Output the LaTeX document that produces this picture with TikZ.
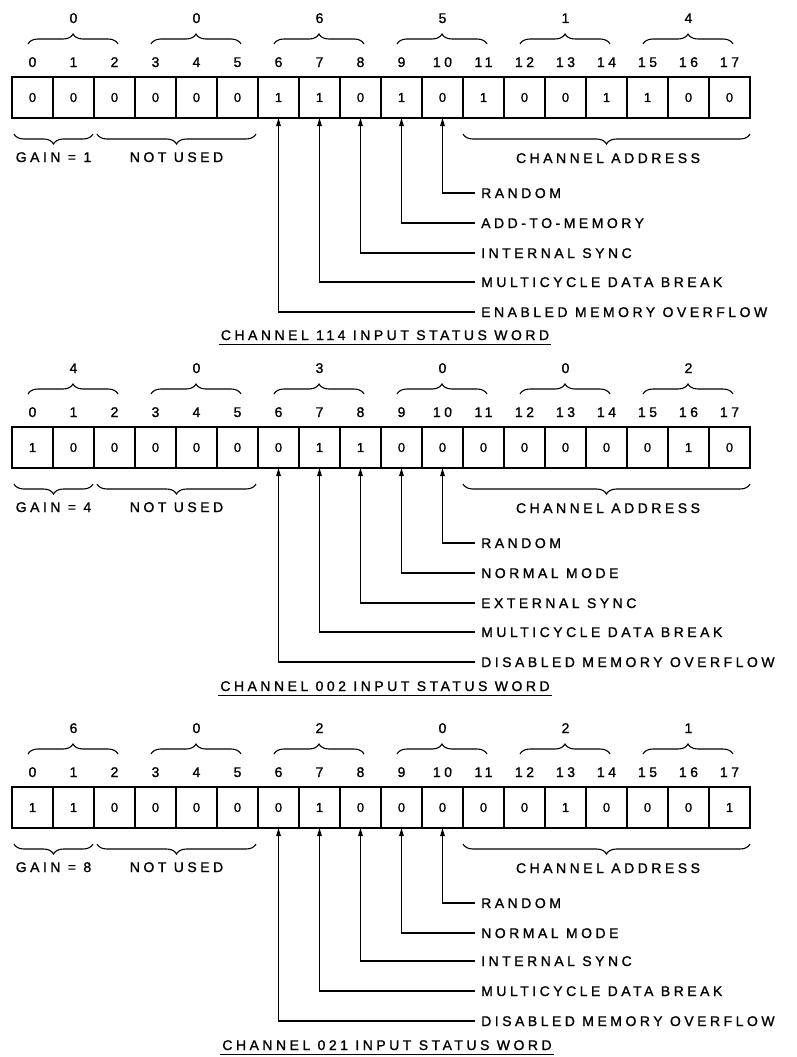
\documentclass[tikz,border=0pt]{standalone}
\usepackage{fontspec}
\setmainfont{Liberation Sans}[LetterSpace=25, FakeBold=1.2]
\usetikzlibrary{arrows.meta,decorations.pathreplacing}

\begin{document}
\begin{tikzpicture}[x=1pt, y=-1pt, >={Triangle[length=8pt,width=4.5pt]},
    txt/.style={inner sep=0pt, text height=10pt, text depth=0pt, font=\fontsize{14}{14}\selectfont},
    cell/.style={draw, line width=1.5pt, outer sep=0pt, minimum size=41pt, inner sep=0pt, font=\fontsize{13}{13}\selectfont},
    frame/.style={line width=2.8pt},
    brc/.style={decorate, decoration={brace, amplitude=10pt}, line width=1.1pt},
    lbl/.style={txt, anchor=west, inner xsep=6pt},
    lead/.style={->, line width=1.2pt},
    ttl/.style={txt, inner xsep=2pt, inner ysep=4.5pt},
    uline/.style={line width=1.2pt}]
    \useasboundingbox (0,0) rectangle (797,1057);

    % channel 114
    \begin{scope}[name prefix=a-]
        \foreach \v [count=\k from 0] in {0,0,6,5,1,4} {
            \node[txt] (oct\k) at (73.5+123*\k, 18) {\v};
            \draw[brc] (28+123*\k, 44) -- (118+123*\k, 44);
        }
        \foreach \v [count=\i from 0] in {0,0,0,0,0,0,1,1,0,1,0,1,0,0,1,1,0,0} {
            \node[txt] (n\i) at (32.5+41*\i, 62) {\i};
            \node[cell] (c\i) at (32.5+41*\i, 97.5) {\v};
        }
        \draw[frame] (c0.north west) rectangle (c17.south east);

        \draw[brc] (93,134) -- (14,134);
        \node[txt] (gain) at (53.5,157) {GAIN = 1};
        \draw[brc] (256,134) -- (97,134);
        \node[txt] (unused) at (176.5,157) {NOT USED};
        \draw[brc] (750,134) -- (463,134);
        \node[txt] (addr) at (608,158) {CHANNEL ADDRESS};

        \foreach \b/\yy/\lab in {10/193/RANDOM, 9/223/ADD-TO-MEMORY, 8/253/INTERNAL SYNC,
                7/282/MULTICYCLE DATA BREAK, 6/312/ENABLED MEMORY OVERFLOW} {
            \node[lbl] (l\b) at (475,\yy) {\lab};
            \draw[lead] (l\b.west) -| (c\b.south);
        }
        \node[ttl] (title) at (385,335) {CHANNEL 114 INPUT STATUS WORD};
        \draw[uline] (title.south west) -- (title.south east);
    \end{scope}

    % channel 002
    \begin{scope}[yshift=-350pt, name prefix=b-]
        \foreach \v [count=\k from 0] in {4,0,3,0,0,2} {
            \node[txt] (oct\k) at (73.5+123*\k, 18) {\v};
            \draw[brc] (28+123*\k, 44) -- (118+123*\k, 44);
        }
        \foreach \v [count=\i from 0] in {1,0,0,0,0,0,0,1,1,0,0,0,0,0,0,0,1,0} {
            \node[txt] (n\i) at (32.5+41*\i, 62) {\i};
            \node[cell] (c\i) at (32.5+41*\i, 97.5) {\v};
        }
        \draw[frame] (c0.north west) rectangle (c17.south east);

        \draw[brc] (93,134) -- (14,134);
        \node[txt] (gain) at (53.5,157) {GAIN = 4};
        \draw[brc] (256,134) -- (97,134);
        \node[txt] (unused) at (176.5,157) {NOT USED};
        \draw[brc] (750,134) -- (463,134);
        \node[txt] (addr) at (608,158) {CHANNEL ADDRESS};

        \foreach \b/\yy/\lab in {10/193/RANDOM, 9/223/NORMAL MODE, 8/253/EXTERNAL SYNC,
                7/282/MULTICYCLE DATA BREAK, 6/312/DISABLED MEMORY OVERFLOW} {
            \node[lbl] (l\b) at (475,\yy) {\lab};
            \draw[lead] (l\b.west) -| (c\b.south);
        }
        \node[ttl] (title) at (385,336) {CHANNEL 002 INPUT STATUS WORD};
        \draw[uline] (title.south west) -- (title.south east);
    \end{scope}

    % channel 021
    \begin{scope}[yshift=-710pt, name prefix=c-]
        \foreach \v [count=\k from 0] in {6,0,2,0,2,1} {
            \node[txt] (oct\k) at (73.5+123*\k, 18) {\v};
            \draw[brc] (28+123*\k, 44) -- (118+123*\k, 44);
        }
        \foreach \v [count=\i from 0] in {1,1,0,0,0,0,0,1,0,0,0,0,0,1,0,0,0,1} {
            \node[txt] (n\i) at (32.5+41*\i, 62) {\i};
            \node[cell] (c\i) at (32.5+41*\i, 97.5) {\v};
        }
        \draw[frame] (c0.north west) rectangle (c17.south east);

        \draw[brc] (93,134) -- (14,134);
        \node[txt] (gain) at (53.5,157) {GAIN = 8};
        \draw[brc] (256,134) -- (97,134);
        \node[txt] (unused) at (176.5,157) {NOT USED};
        \draw[brc] (750,134) -- (463,134);
        \node[txt] (addr) at (608,158) {CHANNEL ADDRESS};

        \foreach \b/\yy/\lab in {10/193/RANDOM, 9/223/NORMAL MODE, 8/251/INTERNAL SYNC,
                7/281/MULTICYCLE DATA BREAK, 6/311/DISABLED MEMORY OVERFLOW} {
            \node[lbl] (l\b) at (475,\yy) {\lab};
            \draw[lead] (l\b.west) -| (c\b.south);
        }
        \node[ttl] (title) at (387,335) {CHANNEL 021 INPUT STATUS WORD};
        \draw[uline] (title.south west) -- (title.south east);
    \end{scope}
\end{tikzpicture}
\end{document}
